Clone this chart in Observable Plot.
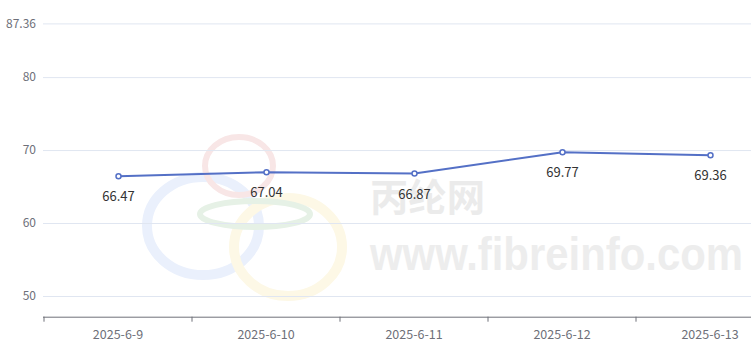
<!DOCTYPE html>
<html><head><meta charset="utf-8">
<script src="https://cdn.jsdelivr.net/npm/d3@7"></script>
<script src="https://cdn.jsdelivr.net/npm/@observablehq/plot@0.6"></script>
<style>body{margin:0;background:#fff;font-family:"Microsoft YaHei","Noto Sans CJK SC",sans-serif}</style>
</head><body><div id="chart"></div>
<script>
const dates = ["2025-6-9","2025-6-10","2025-6-11","2025-6-12","2025-6-13"];
const prices = [66.47, 67.04, 66.87, 69.77, 69.36];
const yTicks = [50, 60, 70, 80, 87.36];
const yDomain = [47.16, 87.36];

const data = dates.map((d, i) => ({date: d, price: prices[i]}));
const W = 751, H = 350;
const font = "Microsoft YaHei, Noto Sans CJK SC, sans-serif";

const chart = Plot.plot({
  width: W, height: H,
  marginLeft: 43, marginRight: 0, marginTop: 0, marginBottom: 0,
  style: {fontFamily: font, background: "#fff", overflow: "hidden"},
  x: {type: "band", domain: dates, range: [43, 785.5], padding: 0, axis: null},
  y: {domain: yDomain, range: [316.7, 23.4], axis: null},
  marks: [
    Plot.ruleY(yTicks, {stroke: "#e0e6f1", strokeWidth: 1, strokeOpacity: 1}),
    Plot.ruleY([yDomain[0]], {stroke: "#6e7079", strokeWidth: 1, strokeOpacity: 1}),
    Plot.line(data, {x: "date", y: "price", stroke: "#5470c6", strokeWidth: 2}),
    Plot.dot(data, {x: "date", y: "price", r: 2.5, fill: "#fff", stroke: "#5470c6", strokeWidth: 1.5}),
    Plot.text(data, {x: "date", y: "price", text: d => d.price.toFixed(2), dy: 21, fill: "#333", fontSize: 13})
  ]
});

const xs = chart.scale("x"), ys = chart.scale("y");
const svg = d3.select(chart);
svg.attr("overflow", "hidden");
// y tick labels
svg.append("g").attr("text-anchor", "end").selectAll("text").data(yTicks).join("text")
  .attr("x", 36).attr("y", d => ys.apply(d)).attr("dy", "0.35em")
  .attr("fill", "#6e7079").attr("font-size", 12)
  .attr("font-family", font).text(d => String(d));
// x ticks at band boundaries
const bw = xs.bandwidth;
const bounds = dates.map(d => xs.apply(d)).concat([xs.apply(dates[dates.length-1]) + bw]);
const y0 = ys.apply(yDomain[0]);
svg.append("g").selectAll("line").data(bounds).join("line")
  .attr("x1", d => d).attr("x2", d => d).attr("y1", y0).attr("y2", y0 + 5)
  .attr("stroke", "#6e7079");
svg.append("g").attr("text-anchor", "middle").selectAll("text").data(dates).join("text")
  .attr("x", d => xs.apply(d) + bw / 2).attr("y", y0 + 18).attr("dy", "0.35em")
  .attr("fill", "#6e7079").attr("font-size", 12.5)
  .attr("font-family", font).text(d => d);

// watermark (behind marks)
const wm = svg.insert("g", ":first-child").attr("text-anchor", "start");
wm.append("ellipse").attr("cx", 203).attr("cy", 226).attr("rx", 56).attr("ry", 49)
  .attr("fill", "none").attr("stroke", "#eaf0fc").attr("stroke-width", 10);
wm.append("ellipse").attr("cx", 239).attr("cy", 166).attr("rx", 34).attr("ry", 29)
  .attr("fill", "none").attr("stroke", "#f8e6e6").attr("stroke-width", 6);
wm.append("ellipse").attr("cx", 288).attr("cy", 247).attr("rx", 54).attr("ry", 49)
  .attr("fill", "none").attr("stroke", "#fdf8e6").attr("stroke-width", 10);
wm.append("ellipse").attr("cx", 255).attr("cy", 214).attr("rx", 55).attr("ry", 13)
  .attr("fill", "none").attr("stroke", "#e6f1e6").attr("stroke-width", 6);
wm.append("text").attr("x", 370).attr("y", 211).attr("font-size", 38).attr("font-weight", "bold")
  .attr("textLength", 115).attr("lengthAdjust", "spacingAndGlyphs")
  .attr("fill", "#ebebeb").attr("font-family", font).text("丙纶网");
wm.append("text").attr("x", 370).attr("y", 270).attr("font-size", 47).attr("font-weight", "bold")
  .attr("textLength", 373).attr("lengthAdjust", "spacingAndGlyphs")
  .attr("fill", "#ededed").attr("font-family", "Liberation Sans, Arial, sans-serif").text("www.fibreinfo.com");
svg.insert("rect", ":first-child").attr("width", W).attr("height", H).attr("fill", "#fff");

document.getElementById("chart").appendChild(chart);
</script></body></html>
